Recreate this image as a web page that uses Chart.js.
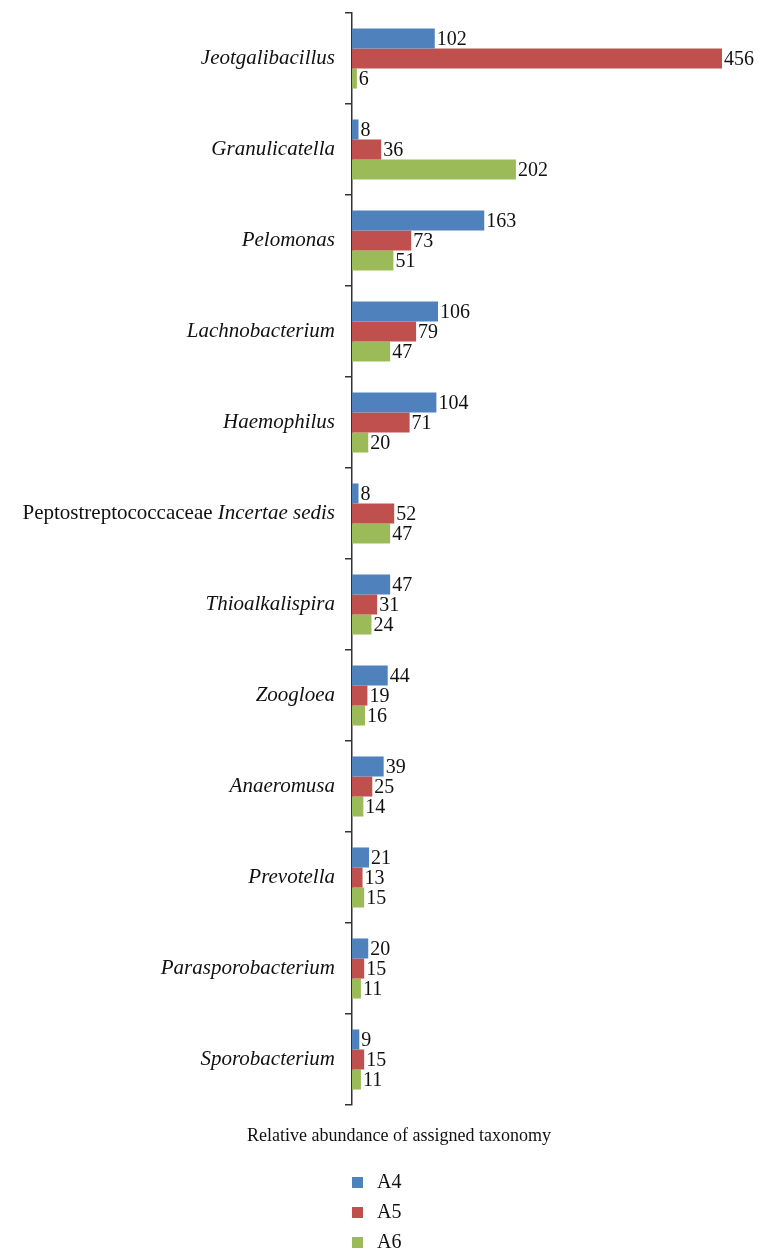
<!DOCTYPE html>
<html>
<head>
<meta charset="utf-8">
<script src="https://cdn.jsdelivr.net/npm/chart.js@4"></script>
<style>
  html, body { margin: 0; padding: 0; background: #fff; }
  #wrap { width: 770px; height: 1257px; }
</style>
</head>
<body>
<div id="wrap"><canvas id="chart"></canvas></div>
<script>
// categories, top to bottom
const genera = ['Jeotgalibacillus', 'Granulicatella', 'Pelomonas', 'Lachnobacterium', 'Haemophilus',
  'Peptostreptococcaceae Incertae sedis', 'Thioalkalispira', 'Zoogloea', 'Anaeromusa', 'Prevotella',
  'Parasporobacterium', 'Sporobacterium'];
// label parts: [text, italic]
const labelParts = [
  [['Jeotgalibacillus', true]], [['Granulicatella', true]], [['Pelomonas', true]],
  [['Lachnobacterium', true]], [['Haemophilus', true]],
  [['Peptostreptococcaceae ', false], ['Incertae sedis', true]],
  [['Thioalkalispira', true]], [['Zoogloea', true]], [['Anaeromusa', true]],
  [['Prevotella', true]], [['Parasporobacterium', true]], [['Sporobacterium', true]]
];
const a4 = [102, 8, 163, 106, 104, 8, 47, 44, 39, 21, 20, 9];
const a5 = [456, 36, 73, 79, 71, 52, 31, 19, 25, 13, 15, 15];
const a6 = [6, 202, 51, 47, 20, 47, 24, 16, 14, 15, 11, 11];
const axisTitle = 'Relative abundance of assigned taxonomy';

const FONT = '"Liberation Serif", "DejaVu Serif", serif';

const decor = {
  id: 'decor',
  afterDatasetsDraw(chart) {
    const ctx = chart.ctx;
    ctx.save();
    ctx.fillStyle = '#111';
    ctx.textBaseline = 'middle';
    ctx.font = '20px ' + FONT;
    ctx.textAlign = 'left';
    chart.data.datasets.forEach((ds, i) => {
      chart.getDatasetMeta(i).data.forEach((bar, j) => {
        ctx.fillText(String(ds.data[j]), bar.x + 2, bar.y + 1);
      });
    });
    // category labels
    const y = chart.scales.y;
    labelParts.forEach((parts, i) => {
      const py = y.getPixelForValue(i);
      let widths = parts.map(p => {
        ctx.font = (p[1] ? 'italic ' : '') + '21px ' + FONT;
        return ctx.measureText(p[0]).width;
      });
      let x = 335 - widths.reduce((a, b) => a + b, 0);
      parts.forEach((p, k) => {
        ctx.font = (p[1] ? 'italic ' : '') + '21px ' + FONT;
        ctx.fillText(p[0], x, py);
        x += widths[k];
      });
    });
    // axis title
    ctx.font = '18px ' + FONT;
    ctx.textAlign = 'center';
    ctx.fillText(axisTitle, 399, 1136);
    // legend
    ctx.textAlign = 'left';
    ctx.font = '20px ' + FONT;
    chart.data.datasets.forEach((ds, i) => {
      const ly = 1182 + i * 30;
      ctx.fillStyle = ds.backgroundColor;
      ctx.fillRect(352, ly - 5, 11, 11);
      ctx.fillStyle = '#111';
      ctx.fillText(ds.label, 377, ly + 1);
    });
    ctx.restore();
  }
};

new Chart(document.getElementById('chart'), {
  type: 'bar',
  data: {
    labels: genera,
    datasets: [
      { label: 'A4', data: a4, backgroundColor: '#4F81BD' },
      { label: 'A5', data: a5, backgroundColor: '#C0504D' },
      { label: 'A6', data: a6, backgroundColor: '#9BBB59' }
    ]
  },
  options: {
    indexAxis: 'y',
    responsive: true,
    maintainAspectRatio: false,
    animation: false,
    layout: { padding: { top: 13, bottom: 152, left: 345, right: 48 } },
    datasets: { bar: { barPercentage: 1.0, categoryPercentage: 0.66 } },
    plugins: { legend: { display: false }, tooltip: { enabled: false } },
    scales: {
      x: { display: false, min: 0, max: 456 },
      y: {
        ticks: { display: false },
        grid: { drawOnChartArea: false, tickLength: 7, color: '#333', lineWidth: 1.5 },
        border: { color: '#333', width: 1.5 }
      }
    }
  },
  plugins: [decor]
});
</script>
</body>
</html>
